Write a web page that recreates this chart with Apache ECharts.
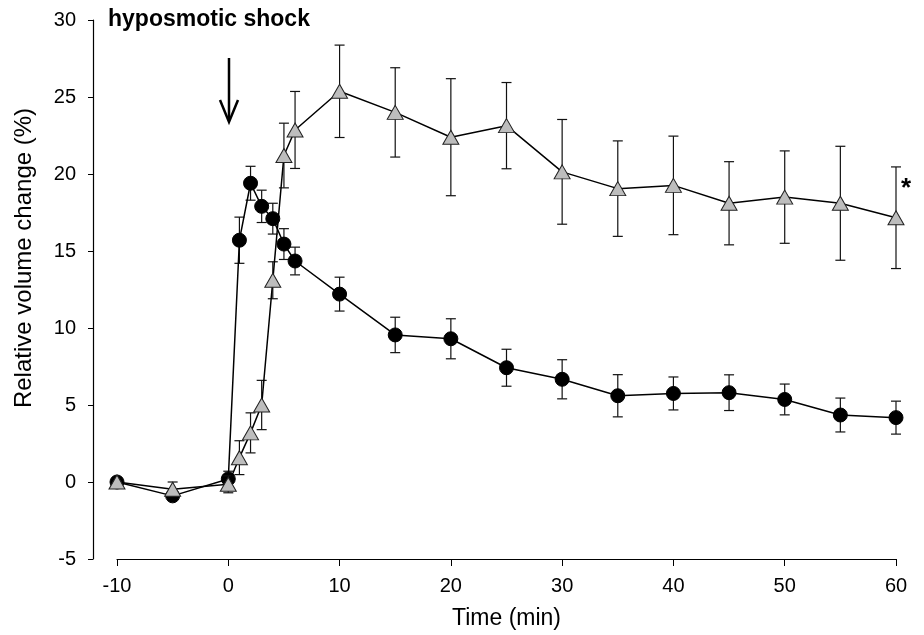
<!DOCTYPE html>
<html>
<head>
<meta charset="utf-8">
<script src="https://cdn.jsdelivr.net/npm/echarts@6/dist/echarts.min.js"></script>
<style>html,body{margin:0;padding:0;background:#fff;}#c{width:924px;height:635px;}</style>
</head>
<body>
<div id="c"></div>
<script>
const times = [-10, -5, 0, 1, 2, 3, 4, 5, 6, 10, 15, 20, 25, 30, 35, 40, 45, 50, 55, 60];
const circleMean = [0, -0.9, 0.2, 15.7, 19.4, 17.9, 17.1, 15.45, 14.35, 12.2, 9.55, 9.3, 7.42, 6.67, 5.6, 5.75, 5.8, 5.36, 4.35, 4.18];
const circleErr  = [0, 0.2, 0.5, 1.5, 1.1, 1.05, 1.0, 1.0, 0.9, 1.1, 1.15, 1.3, 1.2, 1.27, 1.37, 1.07, 1.16, 1.0, 1.1, 1.07];
const triMean = [0, -0.47, -0.15, 1.58, 3.19, 5.0, 13.1, 21.2, 22.86, 25.37, 24.0, 22.39, 23.14, 20.14, 19.05, 19.26, 18.1, 18.5, 18.1, 17.16];
const triErr  = [0, 0.47, 0.55, 1.1, 1.3, 1.6, 1.2, 2.1, 2.5, 3.0, 2.9, 3.8, 2.8, 3.4, 3.1, 3.2, 2.7, 3.0, 3.7, 3.3];
const xTicks = [-10, 0, 10, 20, 30, 40, 50, 60];
const yTicks = [-5, 0, 5, 10, 15, 20, 25, 30];

const chart = echarts.init(document.getElementById('c'));
const font = 'Liberation Sans, Arial, sans-serif';

function errData(mean, err) {
  return times.map((t, i) => [t, mean[i] - err[i], mean[i] + err[i]]);
}
function errSeries(mean, err, z) {
  return {
    type: 'custom',
    z: z,
    data: errData(mean, err),
    encode: {x: 0, y: [1, 2]},
    renderItem: function (params, api) {
      const x = api.value(0);
      const lo = api.coord([x, api.value(1)]);
      const hi = api.coord([x, api.value(2)]);
      const w = 5;
      const st = {stroke: '#111', lineWidth: 1.2};
      return {
        type: 'group',
        children: [
          {type: 'line', shape: {x1: lo[0], y1: lo[1], x2: hi[0], y2: hi[1]}, style: st},
          {type: 'line', shape: {x1: lo[0] - w, y1: lo[1], x2: lo[0] + w, y2: lo[1]}, style: st},
          {type: 'line', shape: {x1: hi[0] - w, y1: hi[1], x2: hi[0] + w, y2: hi[1]}, style: st}
        ]
      };
    }
  };
}

chart.setOption({
  animation: false,
  backgroundColor: '#fff',
  grid: {left: 117, right: 28, top: 20, bottom: 72},
  xAxis: {
    type: 'value', min: -10, max: 60, interval: 10,
    name: 'Time (min)', nameLocation: 'middle', nameGap: 48,
    nameTextStyle: {fontFamily: font, fontSize: 23, color: '#000'},
    axisLine: {show: true, onZero: false, lineStyle: {color: '#000', width: 1.2}},
    axisTick: {show: true, length: 7, lineStyle: {color: '#000'}},
    axisLabel: {fontFamily: font, fontSize: 20, color: '#000', margin: 17,
      formatter: v => xTicks.includes(v) ? String(v) : ''},
    splitLine: {show: false}
  },
  yAxis: {
    type: 'value', min: -5, max: 30, interval: 5, offset: 24,
    axisLine: {show: true, onZero: false, lineStyle: {color: '#000', width: 1.2}},
    axisTick: {show: true, length: 5, lineStyle: {color: '#000'}},
    axisLabel: {fontFamily: font, fontSize: 20, color: '#000', margin: 17,
      formatter: v => yTicks.includes(v) ? String(v) : ''},
    splitLine: {show: false}
  },
  series: [
    errSeries(circleMean, circleErr, 2),
    {
      type: 'line', z: 3,
      data: times.map((t, i) => [t, circleMean[i]]),
      symbol: 'circle', symbolSize: 14,
      lineStyle: {color: '#000', width: 1.5},
      itemStyle: {color: '#000', borderColor: '#000'}
    },
    errSeries(triMean, triErr, 4),
    {
      type: 'line', z: 5,
      data: times.map((t, i) => [t, triMean[i]]),
      symbol: 'triangle', symbolSize: [16, 14],
      lineStyle: {color: '#000', width: 1.5},
      itemStyle: {color: '#bdbdbd', borderColor: '#222', borderWidth: 1}
    }
  ],
  graphic: [
    {type: 'text', left: 108, top: 8, style: {text: 'hyposmotic shock', fontFamily: font, fontSize: 23, fontWeight: 'bold', fill: '#000'}},
    {type: 'text', x: 24, y: 258, rotation: Math.PI / 2,
      style: {text: 'Relative volume change (%)', fontFamily: font, fontSize: 24, fill: '#000', align: 'center', verticalAlign: 'middle'}},
    {type: 'text', left: 901, top: 176, style: {text: '*', fontFamily: font, fontSize: 26, fontWeight: 'bold', fill: '#000'}},
    {type: 'line', shape: {x1: 229, y1: 58, x2: 229, y2: 120}, style: {stroke: '#000', lineWidth: 2.5}},
    {type: 'polyline', shape: {points: [[220, 100], [229, 122], [238, 100]]}, style: {stroke: '#000', lineWidth: 2.5, fill: null}}
  ]
});
</script>
</body>
</html>
